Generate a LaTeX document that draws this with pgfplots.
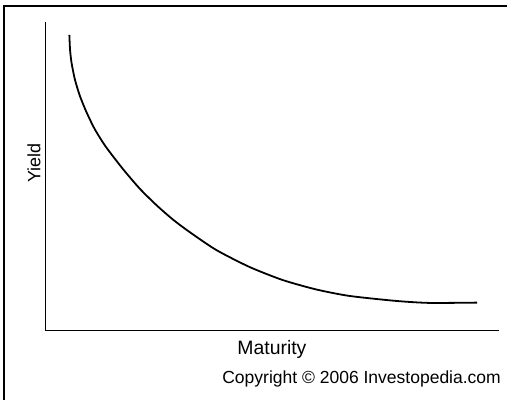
\documentclass[border=0pt]{standalone}
\usepackage{pgfplots}
\pgfplotsset{compat=1.18}
\usepackage{fontspec}
\setmainfont{Liberation Sans}
\begin{document}
\begin{tikzpicture}
\begin{axis}[
    x=1bp, y=1bp,
    xmin=45.5, xmax=500, ymin=70, ymax=379,
    axis x line=bottom, axis y line=left,
    axis line style={-, line width=1.2bp},
    xtick=\empty, ytick=\empty,
    clip=false,
    anchor=origin, at={(0,0)},
]
    % canvas and frame, in pixel units of the reference
    \path (axis cs:0,0) rectangle (axis cs:508,401);
    \draw[line width=2bp] (axis cs:4.3,0) -- (axis cs:4.3,395) -- (axis cs:508,395);
    \addplot[black, line width=1.8bp, smooth, tension=0.4] coordinates {
        (69.5,366)
        (70.2,351)
        (71.7,338)
        (75,321.5)
        (80,305)
        (86.7,288.5)
        (95,271.5)
        (106,254)
        (123.3,231.5)
        (140,212)
        (156.7,195.5)
        (173.3,181)
        (190,168.5)
        (216.7,150.5)
        (250,133.5)
        (283,120.5)
        (316.7,111)
        (350,104.5)
        (396.7,99.5)
        (430,97.5)
        (478,97.8)
    };
    \node[inner sep=0pt, anchor=base, font=\fontsize{19.5}{22}\selectfont] at (axis cs:272.5,46) {Maturity};
    \node[inner sep=0pt, anchor=base east, font=\fontsize{17.6}{20}\selectfont] at (axis cs:502,17) {Copyright © 2006 Investopedia.com};
    \node[inner sep=0pt, anchor=base, rotate=90, font=\fontsize{18}{20}\selectfont] at (axis cs:40.5,237.5) {Yield};
\end{axis}
\end{tikzpicture}
\end{document}
